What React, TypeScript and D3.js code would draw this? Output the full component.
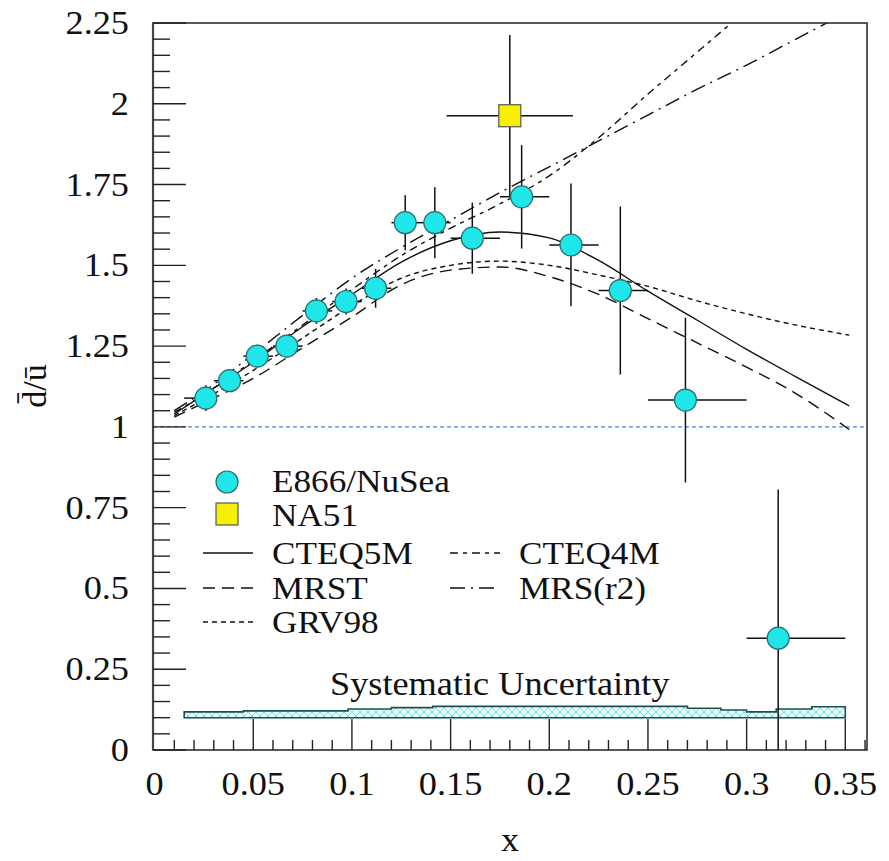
import * as d3 from "d3"

// E866/NuSea points (x, ratio, stat error, x bin)
const e866X = [0.026, 0.038, 0.052, 0.067, 0.082, 0.097, 0.112, 0.127, 0.142, 0.161, 0.186, 0.211, 0.236, 0.269, 0.316]
const e866Y = [1.089, 1.143, 1.219, 1.25, 1.359, 1.388, 1.429, 1.632, 1.632, 1.584, 1.712, 1.563, 1.422, 1.083, 0.346]
const e866Err = [0.04, 0.035, 0.035, 0.035, 0.04, 0.04, 0.06, 0.085, 0.11, 0.11, 0.16, 0.19, 0.26, 0.255, 0.46]
const e866Lo = [0.015, 0.03, 0.045, 0.06, 0.075, 0.09, 0.105, 0.12, 0.135, 0.15, 0.175, 0.2, 0.225, 0.25, 0.3]
const e866Hi = [0.03, 0.045, 0.06, 0.075, 0.09, 0.105, 0.12, 0.135, 0.15, 0.175, 0.2, 0.225, 0.25, 0.3, 0.35]

// NA51 point
const na51X = [0.18]
const na51Y = [1.963]
const na51Err = [0.25]
const na51Lo = [0.148]
const na51Hi = [0.212]

// parton distribution curves
const curveX = [0.01, 0.025, 0.05, 0.075, 0.1, 0.125, 0.15, 0.175, 0.2, 0.225, 0.25, 0.275, 0.3, 0.325, 0.352]
const cteq5m = [1.04, 1.1, 1.2, 1.31, 1.41, 1.51, 1.576, 1.603, 1.585, 1.515, 1.42, 1.33, 1.24, 1.155, 1.065]
const mrst = [1.03, 1.075, 1.15, 1.245, 1.34, 1.44, 1.485, 1.495, 1.465, 1.41, 1.335, 1.26, 1.185, 1.103, 0.992]
const grv98 = [1.035, 1.085, 1.175, 1.275, 1.375, 1.46, 1.5, 1.513, 1.5, 1.47, 1.435, 1.39, 1.35, 1.315, 1.284]
const cteq4mX = [0.01, 0.025, 0.05, 0.075, 0.1, 0.125, 0.15, 0.175, 0.2, 0.225, 0.25, 0.275, 0.3]
const cteq4m = [1.045, 1.1, 1.205, 1.315, 1.425, 1.53, 1.615, 1.69, 1.777, 1.895, 2.03, 2.16, 2.29]
const mrsr2X = [0.01, 0.025, 0.05, 0.075, 0.1, 0.125, 0.15, 0.175, 0.2, 0.225, 0.25, 0.275, 0.3, 0.325, 0.35]
const mrsr2 = [1.05, 1.11, 1.225, 1.345, 1.46, 1.555, 1.64, 1.725, 1.805, 1.885, 1.965, 2.045, 2.12, 2.2, 2.28]

// systematic uncertainty band (step edges and top value, bottom at 0.1)
const sysEdges = [0.015, 0.045, 0.098, 0.12, 0.141, 0.27, 0.287, 0.3, 0.315, 0.333, 0.35]
const sysTop = [0.118, 0.121, 0.127, 0.131, 0.135, 0.129, 0.124, 0.118, 0.127, 0.134]
const sysBase = 0.1

// ticks
const xTicks = [0, 0.05, 0.1, 0.15, 0.2, 0.25, 0.3, 0.35]
const xTickLabels = ["0", "0.05", "0.1", "0.15", "0.2", "0.25", "0.3", "0.35"]
const yTicks = [0, 0.25, 0.5, 0.75, 1, 1.25, 1.5, 1.75, 2, 2.25]
const yTickLabels = ["0", "0.25", "0.5", "0.75", "1", "1.25", "1.5", "1.75", "2", "2.25"]

const cyan = "#1fe6e8"

const width = 889
const height = 861
const margin = { top: 23, right: 22, bottom: 111, left: 153 }

const x = d3.scaleLinear().domain([-0.0008, 0.361]).range([margin.left, width - margin.right])
const y = d3.scaleLinear().domain([0, 2.25]).range([height - margin.bottom, margin.top])
const [x0, x1] = x.range()
const [y0, y1] = y.range()

const line = d3
  .line()
  .x((d) => x(d[0]))
  .y((d) => y(d[1]))
  .curve(d3.curveMonotoneX)

const curves = [
  { name: "CTEQ5M", xs: curveX, ys: cteq5m, dash: undefined },
  { name: "MRST", xs: curveX, ys: mrst, dash: "12,7" },
  { name: "GRV98", xs: curveX, ys: grv98, dash: "5,4" },
  { name: "CTEQ4M", xs: cteq4mX, ys: cteq4m, dash: "8,5,4,5" },
  { name: "MRS(r2)", xs: mrsr2X, ys: mrsr2, dash: "15,6,2,6" },
]

// legend placement for the curve entries
const legendPos = [
  { lx: 203, ty: 553 },
  { lx: 203, ty: 588 },
  { lx: 203, ty: 622 },
  { lx: 450, ty: 553 },
  { lx: 450, ty: 588 },
]

const bandPath = () => {
  const pts = [[x(sysEdges[0]), y(sysBase)]]
  sysTop.forEach((t, i) => {
    pts.push([x(sysEdges[i]), y(t)])
    pts.push([x(sysEdges[i + 1]), y(t)])
  })
  pts.push([x(sysEdges[sysEdges.length - 1]), y(sysBase)])
  return "M" + pts.map((p) => p.join(",")).join("L") + "Z"
}

// serif text, slightly widened like the original raster
const T = ({ x: tx, y: ty, size = 33, anchor = "start", children }) => (
  <text
    transform={`translate(${tx},${ty}) scale(1.1,1)`}
    fontFamily="Liberation Serif"
    fontSize={size}
    textAnchor={anchor}
    fill="#111"
  >
    {children}
  </text>
)

const ErrorBars = ({ xs, ys, err, lo, hi }) => (
  <g stroke="#111" strokeWidth={1.5} clipPath="url(#plotclip)">
    {xs.map((v, i) => (
      <g key={i}>
        <line x1={x(v)} x2={x(v)} y1={y(ys[i] - err[i])} y2={y(ys[i] + err[i])} />
        <line x1={x(lo[i])} x2={x(hi[i])} y1={y(ys[i])} y2={y(ys[i])} />
      </g>
    ))}
  </g>
)

const App = () => {
  const yMinor = d3.range(0, 2.2501, 0.05)
  const xMinor = d3.range(0.01, 0.3605, 0.01)

  return (
    <svg width={width} height={height} style={{ position: "absolute", left: 0, top: 0, background: "#fff" }}>
      <defs>
        <clipPath id="plotclip">
          <rect x={x0} y={y1} width={x1 - x0} height={y0 - y1} />
        </clipPath>
        <pattern id="hatch" patternUnits="userSpaceOnUse" width={8} height={8}>
          <rect width={8} height={8} fill="#eafcfc" />
          <path d="M0,0L8,8M8,0L0,8" stroke="#6fe3e3" strokeWidth={1} />
        </pattern>
      </defs>

      {/* y = 1 reference */}
      <line x1={x0} x2={x1} y1={y(1)} y2={y(1)} stroke="#4f86c6" strokeWidth={1.2} strokeDasharray="4,3" />

      {/* systematic band */}
      <path d={bandPath()} fill="url(#hatch)" stroke="#1d4f50" strokeWidth={1.6} />
      <T x={330} y={695}>Systematic Uncertainty</T>

      {/* model curves */}
      <g clipPath="url(#plotclip)" fill="none" stroke="#111" strokeWidth={1.4}>
        {curves.map((c) => (
          <path key={c.name} d={line(c.xs.map((v, i) => [v, c.ys[i]]))} strokeDasharray={c.dash} />
        ))}
      </g>

      <ErrorBars xs={e866X} ys={e866Y} err={e866Err} lo={e866Lo} hi={e866Hi} />
      <ErrorBars xs={na51X} ys={na51Y} err={na51Err} lo={na51Lo} hi={na51Hi} />

      {e866X.map((v, i) => (
        <circle key={i} cx={x(v)} cy={y(e866Y[i])} r={11} fill={cyan} stroke="#2b6b6e" strokeWidth={1.2} />
      ))}
      {na51X.map((v, i) => (
        <rect key={i} x={x(v) - 11} y={y(na51Y[i]) - 11} width={22} height={22} fill="#f7f000" stroke="#555" strokeWidth={1.2} />
      ))}

      {/* frame */}
      <rect x={x0} y={y1} width={x1 - x0} height={y0 - y1} fill="none" stroke="#222" strokeWidth={1.5} />
      <line x1={x0} x2={x0} y1={y1} y2={y0} stroke="#444" strokeWidth={2.2} />

      {/* ticks */}
      <g stroke="#222" strokeWidth={1.4}>
        {yMinor.map((v, i) => (
          <line key={"y" + i} x1={x0} x2={x0 + (i % 5 === 0 ? 33 : 17)} y1={y(v)} y2={y(v)} />
        ))}
        {xMinor.map((v, i) => (
          <line key={"x" + i} x1={x(v)} x2={x(v)} y1={y0} y2={y0 - ((i + 1) % 5 === 0 ? 31 : 10)} />
        ))}
      </g>

      {yTicks.map((v, i) => (
        <T key={v} x={129} y={y(v) + 11} anchor="end">
          {yTickLabels[i]}
        </T>
      ))}
      {xTicks.map((v, i) => (
        <T key={v} x={x(v)} y={795} anchor="middle">
          {xTickLabels[i]}
        </T>
      ))}

      {/* axis titles */}
      <T x={(x0 + x1) / 2} y={851} anchor="middle">
        x
      </T>
      <text
        transform="translate(46,386) rotate(-90)"
        textAnchor="middle"
        fontFamily="Liberation Serif"
        fontSize={34}
        fill="#111"
      >
        {"d\u0304/\u016b"}
      </text>

      {/* legend */}
      <circle cx={227} cy={482} r={11} fill={cyan} stroke="#2b6b6e" strokeWidth={1.2} />
      <T x={272} y={492} size={32}>E866/NuSea</T>
      <rect x={216} y={503} width={22} height={22} fill="#f7f000" stroke="#555" strokeWidth={1.2} />
      <T x={272} y={526} size={32}>NA51</T>
      {curves.map((c, i) => (
        <g key={c.name}>
          <line
            x1={legendPos[i].lx}
            x2={legendPos[i].lx + 50}
            y1={legendPos[i].ty}
            y2={legendPos[i].ty}
            stroke="#111"
            strokeWidth={1.4}
            strokeDasharray={c.dash}
          />
          <T x={legendPos[i].lx + 69} y={legendPos[i].ty + 11} size={32}>
            {c.name}
          </T>
        </g>
      ))}
    </svg>
  )
}

export default App
